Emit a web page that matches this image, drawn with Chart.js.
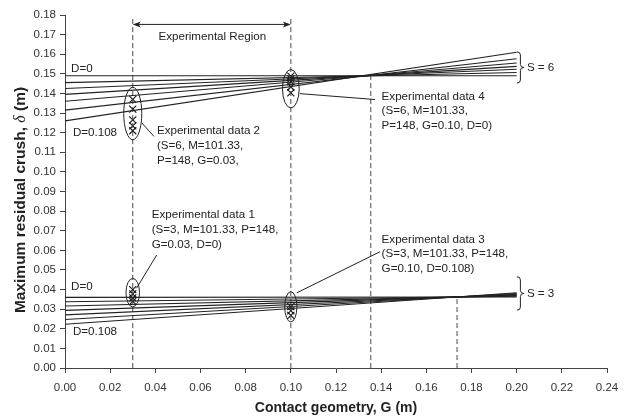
<!DOCTYPE html>
<html>
<head>
<meta charset="utf-8">
<script src="https://cdn.jsdelivr.net/npm/chart.js@4.4.1/dist/chart.umd.min.js"></script>
<style>
  html, body { margin: 0; padding: 0; background: #fff; }
  #wrap { width: 624px; height: 419px; }
</style>
</head>
<body>
<div id="wrap"><canvas id="c" width="624" height="419"></canvas></div>
<script>
// Axis ticks
const X_TICKS = [0.00, 0.02, 0.04, 0.06, 0.08, 0.10, 0.12, 0.14, 0.16, 0.18, 0.20, 0.22, 0.24];
const X_TICK_LABELS = ['0.00', '0.02', '0.04', '0.06', '0.08', '0.10', '0.12', '0.14', '0.16', '0.18', '0.20', '0.22', '0.24'];
const Y_TICKS = [0.00, 0.01, 0.02, 0.03, 0.04, 0.05, 0.06, 0.07, 0.08, 0.09, 0.10, 0.11, 0.12, 0.13, 0.14, 0.15, 0.16, 0.17, 0.18];
const Y_TICK_LABELS = ['0.00', '0.01', '0.02', '0.03', '0.04', '0.05', '0.06', '0.07', '0.08', '0.09', '0.10', '0.11', '0.12', '0.13', '0.14', '0.15', '0.16', '0.17', '0.18'];

// Predicted crush lines: G from 0.00 to 0.20, D = 0 ... 0.108
const G_ENDS = [0.00, 0.20];
const S6_AT_START = [0.1490, 0.1455, 0.1425, 0.1395, 0.1360, 0.1315, 0.1260];
const S6_AT_END   = [0.1490, 0.1507, 0.1523, 0.1538, 0.1555, 0.1577, 0.1610];
const S3_AT_START = [0.0360, 0.0338, 0.0316, 0.0294, 0.0271, 0.0247, 0.0223];
const S3_AT_END   = [0.0362, 0.0366, 0.0369, 0.0373, 0.0376, 0.0380, 0.0384];

// Experimental measurements
const EXP1_G = 0.03, EXP1_CRUSH = [0.0400, 0.0378, 0.0357, 0.0340];
const EXP2_G = 0.03, EXP2_CRUSH = [0.1370, 0.1320, 0.1265, 0.1235, 0.1210];
const EXP3_G = 0.10, EXP3_CRUSH = [0.0313, 0.0292, 0.0268];
const EXP4_G = 0.10, EXP4_CRUSH = [0.1488, 0.1474, 0.1460, 0.1433, 0.1403];

// Vertical reference lines: region bounds and crossing points
const GUIDE_G   = [0.03, 0.10, 0.1354, 0.1736];
const GUIDE_TOP = [0.179, 0.179, 0.149, 0.0362];

const INK = '#222';
const FONT = '"Liberation Sans", Arial, Helvetica, sans-serif';

const datasets = [];
function addFan(starts, ends) {
  starts.forEach((s, i) => {
    datasets.push({
      data: [{ x: G_ENDS[0], y: s }, { x: G_ENDS[1], y: ends[i] }],
      borderColor: INK, borderWidth: 1.1, pointRadius: 0, tension: 0
    });
  });
}
addFan(S6_AT_START, S6_AT_END);
addFan(S3_AT_START, S3_AT_END);

GUIDE_G.forEach((g, i) => {
  datasets.push({
    data: [{ x: g, y: 0 }, { x: g, y: GUIDE_TOP[i] }],
    borderColor: '#4a4a4a', borderWidth: 1, borderDash: [5, 3], pointRadius: 0
  });
});

[[EXP1_G, EXP1_CRUSH], [EXP2_G, EXP2_CRUSH], [EXP3_G, EXP3_CRUSH], [EXP4_G, EXP4_CRUSH]].forEach(([g, vals]) => {
  datasets.push({
    data: vals.map(v => ({ x: g, y: v })),
    showLine: false, pointStyle: 'crossRot', pointRadius: 5,
    borderColor: '#111', borderWidth: 1.1, backgroundColor: '#111'
  });
});

// Enclosures, leaders, labels (data coordinates)
const ELLIPSES = [
  { g: 0.03, lo: 0.1164, hi: 0.1431, halfG: 0.0040 },
  { g: 0.10, lo: 0.1326, hi: 0.1522, halfG: 0.0037 },
  { g: 0.03, lo: 0.0312, hi: 0.0457, halfG: 0.0030 },
  { g: 0.10, lo: 0.0235, hi: 0.0389, halfG: 0.0027 }
];
const LEADERS = [
  [0.0340, 0.1250, 0.0394, 0.1181],
  [0.1040, 0.1399, 0.1373, 0.1369],
  [0.0317, 0.0407, 0.0406, 0.0576],
  [0.1026, 0.0383, 0.1395, 0.0593]
];
const NOTES = [
  { g: 0.0407, v: 0.1207, lines: ['Experimental data 2', '(S=6, M=101.33,', 'P=148, G=0.03,'] },
  { g: 0.1402, v: 0.1385, lines: ['Experimental data 4', '(S=6, M=101.33,', 'P=148, G=0.10, D=0)'] },
  { g: 0.0384, v: 0.0781, lines: ['Experimental data 1', '(S=3, M=101.33, P=148,', 'G=0.03, D=0)'] },
  { g: 0.1402, v: 0.0656, lines: ['Experimental data 3', '(S=3, M=101.33, P=148,', 'G=0.10, D=0.108)'] },
  { g: 0.0027, v: 0.1527, lines: ['D=0'] },
  { g: 0.0035, v: 0.1200, lines: ['D=0.108'] },
  { g: 0.0027, v: 0.0413, lines: ['D=0'] },
  { g: 0.0035, v: 0.0183, lines: ['D=0.108'] }
];
const BRACES = [
  { g: 0.2001, hi: 0.1612, lo: 0.1453, label: 'S = 6' },
  { g: 0.2001, hi: 0.0465, lo: 0.0295, label: 'S = 3' }
];
const REGION = { from: 0.03, to: 0.10, v: 0.1752, labelV: 0.1690, label: 'Experimental Region' };

const overlay = {
  id: 'overlay',
  afterDatasetsDraw(chart) {
    const { ctx, scales: { x, y } } = chart;
    const px = g => x.getPixelForValue(g);
    const py = v => y.getPixelForValue(v);
    ctx.save();
    ctx.strokeStyle = INK;
    ctx.fillStyle = INK;
    ctx.lineWidth = 1;

    ELLIPSES.forEach(e => {
      const cx = px(e.g), t = py(e.hi), b = py(e.lo);
      const rx = px(e.g + e.halfG) - cx;
      ctx.beginPath();
      ctx.ellipse(cx, (t + b) / 2, rx, (b - t) / 2, 0, 0, Math.PI * 2);
      ctx.stroke();
    });

    LEADERS.forEach(([g1, v1, g2, v2]) => {
      ctx.beginPath();
      ctx.moveTo(px(g1), py(v1));
      ctx.lineTo(px(g2), py(v2));
      ctx.stroke();
    });

    // double-headed arrow for the experimental region
    const ax1 = px(REGION.from), ax2 = px(REGION.to), ay = py(REGION.v);
    ctx.beginPath();
    ctx.moveTo(ax1 + 2, ay); ctx.lineTo(ax2 - 2, ay); ctx.stroke();
    [[ax1, 1], [ax2, -1]].forEach(([ex, dir]) => {
      ctx.beginPath();
      ctx.moveTo(ex, ay);
      ctx.lineTo(ex + dir * 8, ay - 3);
      ctx.lineTo(ex + dir * 6, ay);
      ctx.lineTo(ex + dir * 8, ay + 3);
      ctx.closePath();
      ctx.fill();
    });
    ctx.font = '11.6px ' + FONT;
    ctx.textAlign = 'center';
    ctx.textBaseline = 'middle';
    ctx.fillText(REGION.label, (ax1 + ax2) / 2 + 0.5, py(REGION.labelV));

    // curly braces
    BRACES.forEach(br => {
      const x0 = px(br.g), t = py(br.hi), b = py(br.lo), m = (t + b) / 2;
      const w = 3.5, r = 3;
      ctx.beginPath();
      ctx.moveTo(x0, t);
      ctx.quadraticCurveTo(x0 + w, t, x0 + w, t + r);
      ctx.lineTo(x0 + w, m - r);
      ctx.quadraticCurveTo(x0 + w, m, x0 + 2 * w, m);
      ctx.quadraticCurveTo(x0 + w, m, x0 + w, m + r);
      ctx.lineTo(x0 + w, b - r);
      ctx.quadraticCurveTo(x0 + w, b, x0, b);
      ctx.stroke();
      ctx.textAlign = 'left';
      ctx.fillText(br.label, x0 + 2 * w + 3, m);
    });

    ctx.textAlign = 'left';
    NOTES.forEach(n => {
      const lx = px(n.g), ly = py(n.v);
      n.lines.forEach((s, i) => ctx.fillText(s, lx, ly + i * 14.8));
    });
    ctx.restore();
  },
  afterDraw(chart) {
    const { ctx, chartArea } = chart;
    ctx.save();
    ctx.fillStyle = INK;
    ctx.textBaseline = 'middle';
    // x axis title
    ctx.font = 'bold 14px ' + FONT;
    ctx.textAlign = 'center';
    ctx.fillText('Contact geometry, G (m)', (chartArea.left + chartArea.right) / 2, 408);
    // y axis title with italic delta
    const parts = [
      ['Maximum residual crush, ', 'bold 15.5px ' + FONT],
      ['\u03B4', 'italic 16px "Liberation Serif", "DejaVu Serif", serif'],
      [' (m)', 'bold 15.5px ' + FONT]
    ];
    let total = 0;
    parts.forEach(([s, f]) => { ctx.font = f; total += ctx.measureText(s).width; });
    ctx.translate(21, 200);
    ctx.rotate(-Math.PI / 2);
    ctx.textAlign = 'left';
    let cx = -total / 2;
    parts.forEach(([s, f]) => { ctx.font = f; ctx.fillText(s, cx, 0); cx += ctx.measureText(s).width; });
    ctx.restore();
  }
};

const tickFont = { family: FONT, size: 11.5 };
new Chart(document.getElementById('c'), {
  type: 'line',
  data: { datasets },
  plugins: [overlay],
  options: {
    responsive: false,
    animation: false,
    devicePixelRatio: 1,
    layout: { padding: { left: 0, right: 17, top: 15, bottom: 0 } },
    plugins: { legend: { display: false }, tooltip: { enabled: false } },
    scales: {
      x: {
        type: 'linear', min: 0, max: 0.24,
        afterBuildTicks: s => { s.ticks = X_TICKS.map(v => ({ value: v })); },
        afterFit: s => { s.height = 51; s.paddingLeft = 0; s.paddingRight = 0; },
        ticks: {
          autoSkip: false, maxRotation: 0, padding: 8, color: '#333', font: tickFont,
          callback: (v, i) => X_TICK_LABELS[i]
        },
        grid: { drawOnChartArea: false, drawTicks: true, tickLength: 5, color: '#444' },
        border: { display: true, color: '#444', width: 1 }
      },
      y: {
        type: 'linear', min: 0, max: 0.18,
        afterBuildTicks: s => { s.ticks = Y_TICKS.map(v => ({ value: v })); },
        afterFit: s => { s.width = 65; s.paddingTop = 0; s.paddingBottom = 0; },
        ticks: {
          autoSkip: false, padding: 4, color: '#333', font: tickFont,
          callback: (v, i) => Y_TICK_LABELS[i]
        },
        grid: { drawOnChartArea: false, drawTicks: true, tickLength: 5, color: '#444' },
        border: { display: true, color: '#444', width: 1 }
      }
    }
  }
});
</script>
</body>
</html>
